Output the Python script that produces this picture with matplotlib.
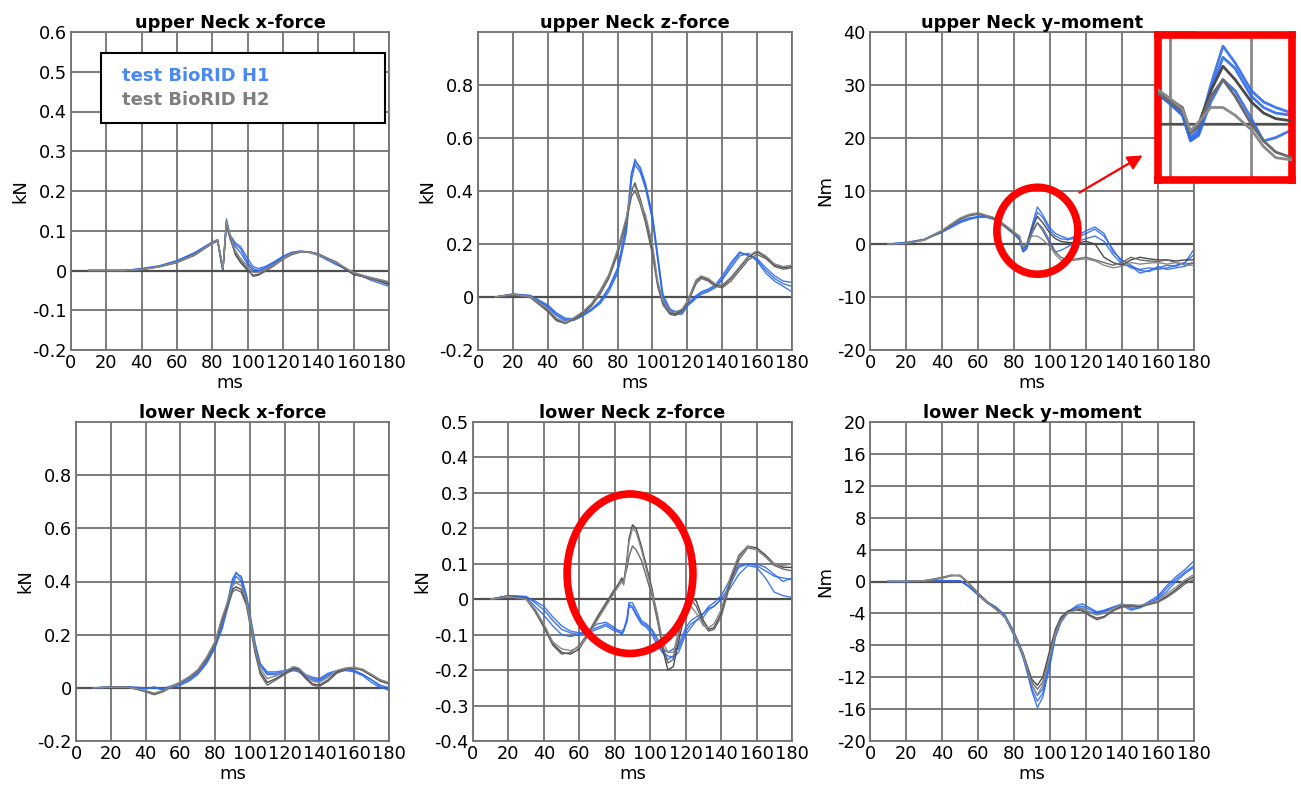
import numpy as np
import matplotlib
matplotlib.use("Agg")
import matplotlib.pyplot as plt
from matplotlib.patches import Ellipse, Rectangle

plt.rcParams["font.family"] = ["DejaVu Sans"]
plt.rcParams["axes.unicode_minus"] = False

# ---------------------------------------------------------------- data
# upper Neck x-force (kN)
t_unx = [10, 20, 30, 40, 50, 60, 70, 80, 83, 85, 86, 88, 90, 93, 96, 100, 103, 106,
         110, 115, 120, 125, 130, 135, 140, 150, 160, 170, 180]
unx_h1_a = [0, 0, 0, 0.005, 0.012, 0.025, 0.045, 0.072, 0.078, 0.03, 0.005, 0.13, 0.09, 0.065, 0.055,
            0.02, 0.005, 0.0, 0.008, 0.02, 0.035, 0.045, 0.048, 0.046, 0.04, 0.018, -0.01, -0.02, -0.035]
unx_h1_b = [0, 0, 0, 0.003, 0.01, 0.022, 0.042, 0.068, 0.075, 0.025, 0.0, 0.125, 0.085, 0.06, 0.045,
            0.015, 0.0, -0.002, 0.005, 0.018, 0.033, 0.044, 0.047, 0.045, 0.038, 0.015, -0.005, -0.025, -0.04]
unx_h1_c = [0, 0, 0, 0.004, 0.011, 0.024, 0.044, 0.07, 0.076, 0.028, 0.003, 0.12, 0.088, 0.07, 0.06,
            0.03, 0.01, 0.005, 0.01, 0.022, 0.036, 0.046, 0.049, 0.046, 0.04, 0.02, -0.008, -0.018, -0.03]
unx_h2_a = [0, 0, 0, 0.003, 0.01, 0.02, 0.04, 0.07, 0.075, 0.02, 0.0, 0.12, 0.085, 0.04, 0.02,
            0.0, -0.012, -0.01, 0.0, 0.015, 0.03, 0.042, 0.048, 0.047, 0.042, 0.02, -0.01, -0.02, -0.035]
unx_h2_b = [0, 0, 0, 0.002, 0.009, 0.02, 0.038, 0.068, 0.074, 0.025, 0.002, 0.115, 0.08, 0.045, 0.025,
            0.005, -0.015, -0.012, -0.002, 0.012, 0.028, 0.04, 0.046, 0.046, 0.041, 0.022, -0.008, -0.022, -0.03]
unx_h2_c = [0, 0, 0, 0.003, 0.01, 0.021, 0.04, 0.07, 0.078, 0.03, 0.005, 0.125, 0.09, 0.05, 0.03,
            0.01, -0.005, -0.005, 0.002, 0.015, 0.03, 0.043, 0.047, 0.046, 0.04, 0.02, -0.005, -0.018, -0.028]

# upper Neck z-force (kN)
t_unz = [10, 20, 30, 40, 45, 50, 55, 60, 65, 70, 75, 80, 85, 88, 90, 93, 96, 100, 103, 106,
         110, 113, 117, 120, 125, 128, 132, 136, 140, 145, 150, 155, 160, 165, 170, 175, 180]
unz_h1_a = [0, 0.01, 0.005, -0.035, -0.065, -0.085, -0.085, -0.07, -0.05, -0.02, 0.03, 0.1, 0.26, 0.46,
            0.52, 0.48, 0.42, 0.3, 0.15, 0.0, -0.05, -0.06, -0.06, -0.03, 0.0, 0.015, 0.025, 0.04, 0.07,
            0.12, 0.165, 0.16, 0.14, 0.1, 0.07, 0.05, 0.04]
unz_h1_b = [0, 0.01, 0.003, -0.04, -0.07, -0.09, -0.088, -0.072, -0.05, -0.025, 0.02, 0.09, 0.24, 0.44,
            0.5, 0.47, 0.41, 0.29, 0.14, -0.01, -0.055, -0.065, -0.065, -0.035, -0.005, 0.01, 0.02, 0.035,
            0.065, 0.11, 0.155, 0.165, 0.135, 0.09, 0.06, 0.04, 0.02]
unz_h1_c = [0, 0.012, 0.006, -0.03, -0.06, -0.08, -0.082, -0.065, -0.045, -0.015, 0.035, 0.11, 0.27, 0.47,
            0.51, 0.49, 0.43, 0.31, 0.16, 0.01, -0.045, -0.055, -0.05, -0.025, 0.005, 0.02, 0.03, 0.045,
            0.08, 0.13, 0.17, 0.155, 0.145, 0.11, 0.08, 0.06, 0.055]
unz_h2_a = [0, 0.01, 0.0, -0.05, -0.085, -0.1, -0.08, -0.06, -0.03, 0.02, 0.08, 0.17, 0.29, 0.4, 0.43,
            0.37, 0.3, 0.18, 0.05, -0.02, -0.06, -0.065, -0.05, -0.02, 0.06, 0.075, 0.065, 0.045, 0.04,
            0.07, 0.11, 0.15, 0.17, 0.15, 0.12, 0.11, 0.115]
unz_h2_b = [0, 0.008, -0.002, -0.055, -0.09, -0.1, -0.085, -0.065, -0.035, 0.01, 0.07, 0.16, 0.28, 0.38,
            0.4, 0.35, 0.28, 0.16, 0.04, -0.03, -0.065, -0.07, -0.055, -0.025, 0.05, 0.07, 0.06, 0.04,
            0.035, 0.06, 0.1, 0.14, 0.16, 0.145, 0.115, 0.105, 0.11]
unz_h2_c = [0, 0.01, 0.002, -0.045, -0.08, -0.095, -0.078, -0.055, -0.025, 0.025, 0.085, 0.18, 0.3, 0.41,
            0.42, 0.36, 0.31, 0.2, 0.06, -0.015, -0.055, -0.06, -0.045, -0.015, 0.065, 0.08, 0.07, 0.05,
            0.045, 0.075, 0.115, 0.155, 0.175, 0.155, 0.125, 0.115, 0.12]

# upper Neck y-moment (Nm)
t_uny = [10, 20, 30, 40, 50, 55, 60, 65, 70, 75, 80, 83, 85, 87, 90, 93, 96, 100, 103, 106,
         110, 115, 120, 125, 130, 135, 140, 145, 150, 155, 160, 165, 170, 175, 180]
uny_h1_a = [0, 0.2, 0.8, 2.3, 4.2, 4.8, 5.0, 5.2, 4.8, 3.5, 2.0, 1.0, -1.2, -0.5, 3.5, 7.0, 5.5, 3.0,
            2.0, 1.5, 1.0, 1.5, 2.5, 3.2, 2.0, -1.5, -3.0, -4.0, -5.0, -5.2, -4.5, -4.0, -4.2, -3.5, -1.0]
uny_h1_b = [0, 0.3, 0.9, 2.5, 4.3, 4.9, 5.2, 5.3, 4.6, 3.3, 1.8, 0.8, -1.4, -0.8, 3.0, 6.0, 5.0, 2.5,
            1.5, 1.0, 0.8, 1.2, 2.0, 2.8, 1.5, -1.0, -3.5, -4.5, -4.8, -4.5, -4.8, -4.5, -4.0, -3.5, -2.0]
uny_h1_c = [0, 0.2, 0.8, 2.2, 4.0, 4.6, 5.1, 5.0, 4.5, 3.2, 1.9, 0.9, -1.5, -1.0, 2.0, 4.0, 3.0, 0.5,
            -1.5, -1.2, -0.5, 0.5, 1.0, 1.5, 0.5, -2.0, -3.8, -4.2, -5.5, -5.0, -4.3, -4.8, -4.5, -4.2, -3.5]
uny_h2_a = [0, 0.1, 0.8, 2.5, 4.8, 5.5, 5.8, 5.3, 4.8, 3.5, 2.2, 1.5, -0.8, 0.0, 3.0, 5.2, 4.0, 2.0,
            1.0, 0.5, 0.3, 0.2, 0.5, 0.0, -2.5, -3.5, -4.0, -3.0, -2.5, -2.8, -3.0, -3.0, -3.2, -3.0, -3.0]
uny_h2_b = [0, 0.1, 0.7, 2.4, 4.6, 5.3, 5.6, 5.2, 4.6, 3.3, 2.0, 1.2, -0.8, -0.2, 2.5, 4.0, 2.5, 0.0,
            -1.5, -2.5, -3.0, -2.8, -2.5, -3.0, -3.5, -4.0, -3.5, -2.5, -3.0, -3.2, -3.3, -3.0, -3.5, -3.8, -3.5]
uny_h2_c = [0, 0.1, 0.8, 2.6, 4.9, 5.6, 5.9, 5.4, 4.9, 3.6, 2.3, 1.4, -0.6, 0.2, 1.5, 1.5, 0.8, -0.5,
            -2.0, -3.0, -3.2, -3.0, -2.8, -3.2, -4.0, -4.5, -4.2, -3.5, -3.8, -3.6, -3.5, -3.8, -3.5, -4.0, -4.0]

# lower Neck x-force (kN)
t_lnx = [10, 20, 30, 40, 45, 50, 55, 60, 65, 70, 75, 80, 84, 88, 90, 92, 95, 98, 100, 103, 106,
         110, 115, 120, 125, 128, 132, 136, 140, 145, 150, 155, 160, 165, 170, 175, 180]
lnx_h1_a = [0, 0.003, 0.003, -0.003, 0.002, -0.005, 0.0, 0.01, 0.025, 0.05, 0.09, 0.15, 0.23, 0.34, 0.4,
            0.435, 0.41, 0.34, 0.27, 0.16, 0.09, 0.055, 0.055, 0.06, 0.07, 0.065, 0.045, 0.035, 0.03,
            0.05, 0.06, 0.065, 0.06, 0.045, 0.02, 0.0, -0.005]
lnx_h1_b = [0, 0.002, 0.004, 0.0, 0.0, -0.008, 0.005, 0.015, 0.03, 0.055, 0.095, 0.155, 0.22, 0.32, 0.38,
            0.42, 0.4, 0.33, 0.26, 0.15, 0.08, 0.05, 0.05, 0.055, 0.065, 0.06, 0.04, 0.03, 0.025, 0.045,
            0.06, 0.07, 0.065, 0.05, 0.03, 0.005, -0.01]
lnx_h1_c = [0, 0.003, 0.002, -0.002, 0.003, -0.003, 0.008, 0.02, 0.035, 0.06, 0.1, 0.16, 0.24, 0.35, 0.41,
            0.43, 0.42, 0.35, 0.28, 0.17, 0.09, 0.06, 0.06, 0.065, 0.075, 0.07, 0.05, 0.04, 0.035, 0.055,
            0.065, 0.07, 0.065, 0.05, 0.03, 0.01, 0.0]
lnx_h2_a = [0, 0.002, 0.002, -0.012, -0.022, -0.012, 0.005, 0.02, 0.04, 0.065, 0.11, 0.17, 0.26, 0.33,
            0.37, 0.38, 0.37, 0.32, 0.25, 0.14, 0.06, 0.02, 0.035, 0.055, 0.075, 0.07, 0.04, 0.015, 0.01,
            0.03, 0.06, 0.07, 0.075, 0.065, 0.045, 0.025, 0.015]
lnx_h2_b = [0, 0.002, 0.003, -0.015, -0.026, -0.015, 0.003, 0.018, 0.038, 0.062, 0.105, 0.165, 0.25, 0.32,
            0.36, 0.37, 0.36, 0.31, 0.24, 0.13, 0.05, 0.01, 0.03, 0.05, 0.07, 0.065, 0.035, 0.01, 0.005,
            0.025, 0.055, 0.068, 0.072, 0.068, 0.05, 0.03, 0.018]
lnx_h2_c = [0, 0.002, 0.002, -0.01, -0.02, -0.01, 0.006, 0.022, 0.042, 0.068, 0.115, 0.175, 0.265, 0.34,
            0.385, 0.395, 0.385, 0.33, 0.26, 0.15, 0.07, 0.035, 0.045, 0.06, 0.08, 0.075, 0.05, 0.025, 0.02,
            0.04, 0.065, 0.075, 0.078, 0.07, 0.05, 0.03, 0.02]

# lower Neck z-force (kN)
t_lnz = [10, 20, 30, 35, 40, 45, 50, 55, 60, 65, 70, 75, 80, 84, 85, 87, 88, 90, 92, 95, 98, 101,
         104, 107, 110, 113, 116, 120, 123, 126, 130, 133, 136, 140, 145, 150, 155, 160, 165, 170, 175, 180]
lnz_h1_a = [0, 0.01, 0.008, -0.01, -0.03, -0.06, -0.085, -0.095, -0.1, -0.095, -0.085, -0.075, -0.09,
            -0.095, -0.09, -0.06, -0.01, -0.01, -0.03, -0.06, -0.07, -0.085, -0.11, -0.14, -0.15, -0.14,
            -0.14, -0.09, -0.07, -0.06, -0.05, -0.03, -0.02, 0.0, 0.04, 0.09, 0.1, 0.095, 0.08, 0.065,
            0.06, 0.055]
lnz_h1_b = [0, 0.01, 0.005, -0.02, -0.045, -0.075, -0.1, -0.105, -0.1, -0.09, -0.07, -0.065, -0.08,
            -0.1, -0.09, -0.05, -0.015, -0.02, -0.04, -0.065, -0.075, -0.09, -0.12, -0.15, -0.16, -0.165,
            -0.15, -0.1, -0.08, -0.06, -0.04, -0.02, -0.01, 0.01, 0.055, 0.095, 0.1, 0.1, 0.09, 0.07,
            0.05, 0.06]
lnz_h1_c = [0, 0.01, 0.006, -0.005, -0.02, -0.05, -0.075, -0.09, -0.095, -0.09, -0.08, -0.07, -0.085,
            -0.09, -0.085, -0.06, -0.02, -0.025, -0.045, -0.07, -0.08, -0.1, -0.13, -0.15, -0.17, -0.16,
            -0.13, -0.08, -0.06, -0.05, -0.04, -0.025, -0.02, 0.0, 0.03, 0.07, 0.095, 0.09, 0.06, 0.02,
            0.01, 0.005]
lnz_h2_a = [0, 0.008, 0.002, -0.03, -0.075, -0.125, -0.15, -0.155, -0.14, -0.1, -0.055, -0.015, 0.025,
            0.06, 0.045, 0.12, 0.17, 0.21, 0.2, 0.15, 0.09, 0.03, -0.05, -0.14, -0.2, -0.19, -0.12, -0.03,
            0.005, -0.005, -0.06, -0.085, -0.08, -0.04, 0.05, 0.12, 0.15, 0.145, 0.125, 0.1, 0.09, 0.09]
lnz_h2_b = [0, 0.008, 0.0, -0.035, -0.08, -0.13, -0.155, -0.15, -0.13, -0.095, -0.05, -0.01, 0.03,
            0.055, 0.05, 0.09, 0.12, 0.15, 0.14, 0.11, 0.06, 0.01, -0.06, -0.13, -0.18, -0.17, -0.1, -0.02,
            0.0, -0.02, -0.07, -0.09, -0.085, -0.05, 0.04, 0.11, 0.145, 0.14, 0.12, 0.095, 0.085, 0.08]
lnz_h2_c = [0, 0.007, 0.0, -0.028, -0.07, -0.12, -0.14, -0.145, -0.135, -0.105, -0.06, -0.02, 0.02,
            0.05, 0.04, 0.11, 0.16, 0.2, 0.19, 0.14, 0.08, 0.02, -0.04, -0.12, -0.15, -0.15, -0.09, -0.01,
            -0.02, -0.04, -0.075, -0.08, -0.07, -0.03, 0.06, 0.125, 0.15, 0.14, 0.12, 0.1, 0.095, 0.1]

# lower Neck y-moment (Nm)
t_lny = [10, 20, 30, 35, 40, 45, 50, 55, 60, 65, 70, 75, 80, 85, 88, 90, 93, 96, 100, 103, 106,
         110, 115, 118, 122, 126, 130, 135, 140, 145, 150, 155, 160, 165, 170, 175, 180]
lny_h1_a = [0, 0, 0.05, 0.1, 0.1, 0.1, 0.1, -0.6, -1.6, -2.6, -3.3, -4.5, -6.8, -9.5, -12.0, -13.8,
            -15.8, -14.5, -10.5, -7.0, -5.2, -3.8, -3.0, -2.8, -3.3, -3.8, -3.6, -3.2, -2.8, -3.4, -3.2,
            -2.5, -1.8, -0.5, 0.6, 1.5, 2.6]
lny_h1_b = [0, 0, 0.05, 0.1, 0.1, 0.1, 0.1, -0.7, -1.7, -2.7, -3.4, -4.3, -6.5, -9.3, -11.8, -13.5,
            -15.0, -14.0, -10.0, -6.8, -5.0, -3.8, -3.2, -3.1, -3.5, -3.9, -3.7, -3.3, -3.0, -3.6, -3.3,
            -2.8, -2.0, -0.8, 0.3, 1.2, 2.0]
lny_h1_c = [0, 0, 0.05, 0.1, 0.1, 0.1, 0.1, -0.6, -1.5, -2.5, -3.2, -4.2, -6.3, -9.0, -11.5, -13.0,
            -14.3, -13.5, -9.5, -6.5, -4.8, -3.7, -3.3, -3.4, -3.8, -4.0, -3.8, -3.3, -3.0, -3.2, -3.1,
            -2.6, -2.2, -1.2, 0.0, 1.0, 1.8]
lny_h2_a = [0, 0, 0.1, 0.3, 0.5, 0.8, 0.7, -0.3, -1.5, -2.6, -3.5, -4.5, -6.5, -9.0, -11.0, -12.3,
            -13.0, -12.0, -8.5, -6.0, -4.5, -3.7, -3.5, -3.6, -4.2, -4.6, -4.4, -3.6, -3.1, -3.0, -3.1,
            -2.8, -2.5, -1.8, -1.0, 0.0, 0.6]
lny_h2_b = [0, 0, 0.1, 0.2, 0.4, 0.7, 0.8, -0.2, -1.4, -2.5, -3.4, -4.4, -6.4, -9.1, -11.2, -12.6,
            -13.5, -12.6, -9.0, -6.3, -4.7, -3.8, -3.6, -3.7, -4.3, -4.8, -4.5, -3.7, -3.2, -3.1, -3.0,
            -2.9, -2.6, -2.0, -1.2, -0.3, 0.3]
lny_h2_c = [0, 0, 0.1, 0.25, 0.45, 0.75, 0.75, -0.25, -1.5, -2.6, -3.5, -4.4, -6.6, -9.2, -11.5, -13.0,
            -14.2, -13.0, -9.3, -6.6, -5.0, -4.0, -3.4, -3.3, -3.9, -4.2, -4.0, -3.4, -2.9, -2.9, -3.0,
            -2.7, -2.4, -1.5, -0.7, 0.2, 0.9]

x_ticks = [0, 20, 40, 60, 80, 100, 120, 140, 160, 180]
yt_unx = [-0.2, -0.1, 0, 0.1, 0.2, 0.3, 0.4, 0.5, 0.6]
yt_force = [-0.2, 0, 0.2, 0.4, 0.6, 0.8]
yt_uny = [-20, -10, 0, 10, 20, 30, 40]
yt_lnz = [-0.4, -0.3, -0.2, -0.1, 0, 0.1, 0.2, 0.3, 0.4, 0.5]
yt_lny = [-20, -16, -12, -8, -4, 0, 4, 8, 12, 16, 20]

legend_labels = ["test BioRID H1", "test BioRID H2"]

# ---------------------------------------------------------------- style
BLUE = "#2f6ae8"
GRAYS = ["#4a4a4a", "#6a6a6a", "#8a8a8a"]
GRID = "#727272"
W, H = 1301, 785


def px_rect(x0, y0, x1, y1):
    """figure pixel box (top-left origin) -> add_axes rect"""
    return [x0 / W, 1 - y1 / H, (x1 - x0) / W, (y1 - y0) / H]


def fmt(v):
    return "0" if v == 0 else f"{v:g}"


def draw_panel(ax, t, blues, grays, title, ylabel, ylim, yticks, lw=1.0):
    ax.set_xlim(0, 180)
    ax.set_ylim(*ylim)
    ax.set_xticks(x_ticks)
    ax.set_yticks(yticks)
    ax.set_yticklabels([fmt(v) for v in yticks])
    ax.grid(True, color=GRID, lw=1.3)
    ax.set_axisbelow(True)
    ax.axhline(0, color="#4f4f4f", lw=1.6, zorder=1)
    for y in blues:
        ax.plot(t, y, color=BLUE, lw=lw, alpha=0.9, zorder=2)
    for y, c in zip(grays, GRAYS):
        ax.plot(t, y, color=c, lw=lw, zorder=3)
    for s in ax.spines.values():
        s.set_color(GRID)
        s.set_linewidth(1.3)
    if title:
        ax.set_title(title, fontsize=12.8, fontweight="bold", pad=2)
        ax.set_xlabel("ms", fontsize=13, labelpad=1)
        ax.set_ylabel(ylabel, fontsize=13, labelpad=2)
    ax.tick_params(length=0, labelsize=12.8, pad=3)


fig = plt.figure(figsize=(W / 100, H / 100), dpi=100)
fig.patch.set_facecolor("white")

ax1 = fig.add_axes(px_rect(71, 32, 389, 350))
ax2 = fig.add_axes(px_rect(478, 32, 792, 350))
ax3 = fig.add_axes(px_rect(870, 32, 1194, 350))
ax4 = fig.add_axes(px_rect(76, 422, 389, 741))
ax5 = fig.add_axes(px_rect(473, 422, 792, 741))
ax6 = fig.add_axes(px_rect(870, 422, 1194, 741))

draw_panel(ax1, t_unx, [unx_h1_a, unx_h1_b, unx_h1_c], [unx_h2_a, unx_h2_b, unx_h2_c],
           "upper Neck x-force", "kN", (-0.2, 0.6), yt_unx)
draw_panel(ax2, t_unz, [unz_h1_a, unz_h1_b, unz_h1_c], [unz_h2_a, unz_h2_b, unz_h2_c],
           "upper Neck z-force", "kN", (-0.2, 1.0), yt_force)
uny_blue = [uny_h1_a, uny_h1_b, uny_h1_c]
uny_gray = [uny_h2_a, uny_h2_b, uny_h2_c]
draw_panel(ax3, t_uny, uny_blue, uny_gray, "upper Neck y-moment", "Nm", (-20, 40), yt_uny)
draw_panel(ax4, t_lnx, [lnx_h1_a, lnx_h1_b, lnx_h1_c], [lnx_h2_a, lnx_h2_b, lnx_h2_c],
           "lower Neck x-force", "kN", (-0.2, 1.0), yt_force)
draw_panel(ax5, t_lnz, [lnz_h1_a, lnz_h1_b, lnz_h1_c], [lnz_h2_a, lnz_h2_b, lnz_h2_c],
           "lower Neck z-force", "kN", (-0.4, 0.5), yt_lnz)
draw_panel(ax6, t_lny, [lny_h1_a, lny_h1_b, lny_h1_c], [lny_h2_a, lny_h2_b, lny_h2_c],
           "lower Neck y-moment", "Nm", (-20, 20), yt_lny)

# legend box (text only) in the first panel
ax1.add_patch(Rectangle((0.094, 0.714), 0.893, 0.22, transform=ax1.transAxes,
                        facecolor="white", edgecolor="black", lw=1.5, zorder=5))
ax1.text(0.16, 0.862, legend_labels[0], transform=ax1.transAxes, color="#4a8af0",
         fontsize=13, fontweight="bold", va="center", zorder=6)
ax1.text(0.16, 0.786, legend_labels[1], transform=ax1.transAxes, color="#7f7f7f",
         fontsize=13, fontweight="bold", va="center", zorder=6)

# red highlight ellipses
ax3.add_patch(Ellipse((93, 2.5), 45, 16.4, fill=False, edgecolor="red", lw=5.5,
                      clip_on=False, zorder=8))
ax5.add_patch(Ellipse((88.6, 0.072), 71, 0.45, fill=False, edgecolor="red", lw=5.5,
                      clip_on=False, zorder=8))

# zoomed inset of the upper neck y-moment peak
axi = fig.add_axes(px_rect(1158, 35, 1292, 180))
draw_panel(axi, t_uny, uny_blue, uny_gray, None, None, (-5, 8), [0], lw=2.0)
axi.set_xlim(77, 110)
axi.set_xticks([80, 100])
axi.set_xticklabels([])
axi.set_yticklabels([])
axi.grid(True, color="#8a8a8a", lw=2.0)
for s in axi.spines.values():
    s.set_color("red")
    s.set_linewidth(5.5)

# arrow from the ellipse to the inset
fig.add_artist(matplotlib.patches.FancyArrowPatch(
    (1077 / W, 1 - 194 / H), (1145 / W, 1 - 154 / H), transform=fig.transFigure,
    arrowstyle="-|>", mutation_scale=22, color="red", lw=1.6))

fig.savefig("out.png", dpi=100, facecolor="white")
